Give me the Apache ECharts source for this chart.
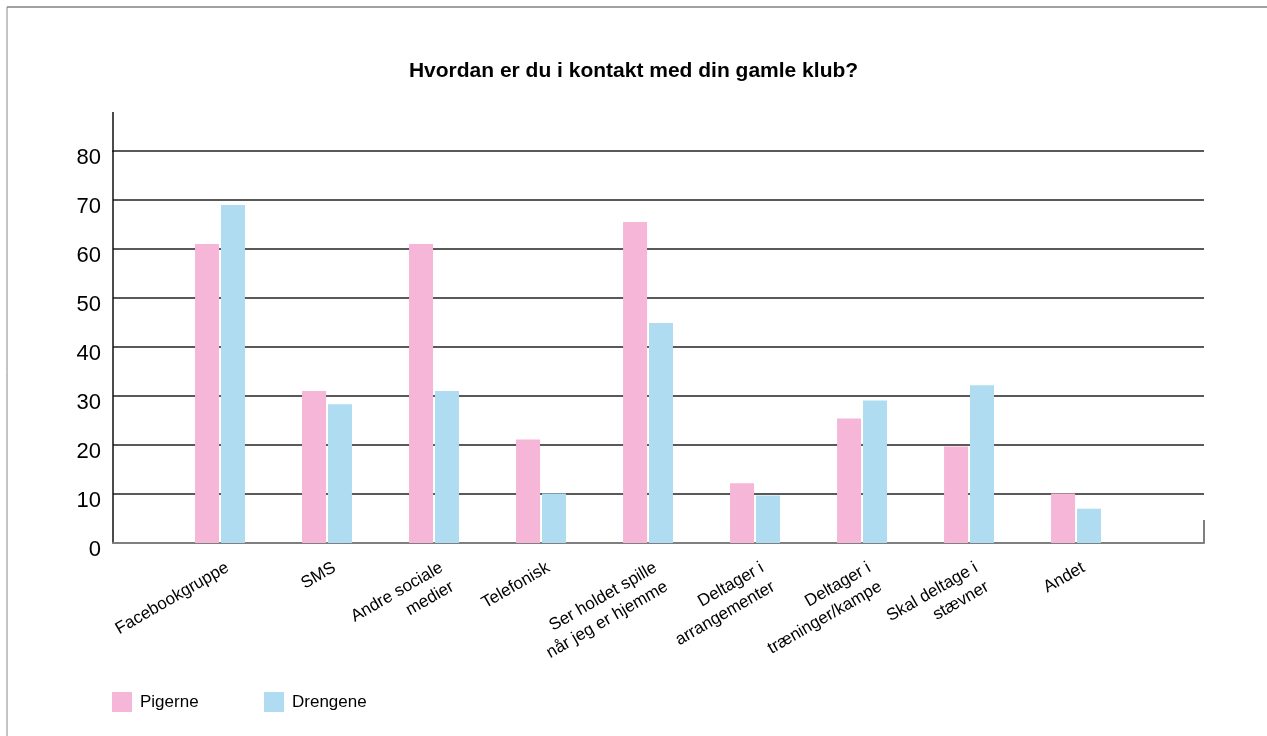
<!DOCTYPE html>
<html>
<head>
<meta charset="utf-8">
<script src="https://cdn.jsdelivr.net/npm/echarts@6/dist/echarts.min.js"></script>
<style>
  html, body { margin: 0; padding: 0; background: #fff; }
  #chart { width: 1267px; height: 736px; }
</style>
</head>
<body>
<div id="chart"></div>
<script>
// data
var categories = [
  "Facebookgruppe",
  "SMS",
  "Andre sociale\nmedier",
  "Telefonisk",
  "Ser holdet spille\nnår jeg er hjemme",
  "Deltager i\narrangementer",
  "Deltager i\ntræninger/kampe",
  "Skal deltage i\nstævner",
  "Andet"
];
var pigerne = [61, 31, 61, 21.1, 65.5, 12.2, 25.4, 19.7, 10.1];
var drengene = [69, 28.3, 31, 10.1, 44.9, 9.7, 29.1, 32.2, 7];
var yTicks = [0, 80, 10]; // min, max, step

var font = "'Liberation Sans Narrow', 'Arial Narrow', 'Liberation Sans', sans-serif";

// bars sit on a value axis so the categories keep the original spacing
function pairs(vals) {
  return vals.map(function (v, i) { return [i + 1, v]; });
}

var chart = echarts.init(document.getElementById("chart"));

chart.setOption({
  backgroundColor: "#fff",
  animation: false,
  textStyle: { fontFamily: font },
  title: {
    text: "Hvordan er du i kontakt med din gamle klub?",
    left: "center",
    top: 56,
    textStyle: { fontFamily: font, fontSize: 21, fontWeight: "bold", color: "#000" }
  },
  legend: [
    {
      data: ["Pigerne"], left: 112, top: 692, padding: 0, itemWidth: 20, itemHeight: 20, itemGap: 0,
      icon: "rect", textStyle: { fontFamily: font, fontSize: 17, color: "#000", padding: [0, 0, 0, 3] }
    },
    {
      data: ["Drengene"], left: 264, top: 692, padding: 0, itemWidth: 20, itemHeight: 20, itemGap: 0,
      icon: "rect", textStyle: { fontFamily: font, fontSize: 17, color: "#000", padding: [0, 0, 0, 3] }
    }
  ],
  grid: [
    { left: 113, right: 63, top: 151, bottom: 193, containLabel: false },
    // label strip, nudged a little right like the original
    { left: 168.5, right: 135.5, top: 151, bottom: 193, containLabel: false }
  ],
  xAxis: [
    {
      type: "value",
      gridIndex: 0,
      min: 0,
      max: 10.196,
      interval: 1,
      splitLine: { show: false },
      axisTick: { show: false },
      axisLabel: { show: false },
      axisLine: { show: true, onZero: false, lineStyle: { color: "#7f7f7f", width: 2 } }
    },
    {
      type: "category",
      gridIndex: 1,
      data: categories,
      axisLine: { show: false },
      axisTick: { show: false },
      axisLabel: {
        interval: 0,
        rotate: 30,
        margin: 14,
        align: "right",
        verticalAlign: "top",
        fontSize: 17,
        lineHeight: 22,
        color: "#000",
        fontFamily: font
      }
    }
  ],
  yAxis: [
    {
      type: "value",
      gridIndex: 0,
      min: yTicks[0],
      max: yTicks[1],
      interval: yTicks[2],
      axisLine: { show: true, lineStyle: { color: "#111", width: 1.5 } },
      axisTick: { show: false },
      axisLabel: {
        fontSize: 22, color: "#000", margin: 12, fontFamily: font,
        verticalAlign: "top", lineHeight: 14
      },
      splitLine: { lineStyle: { color: "#222", width: 1.5 } }
    },
    { type: "value", gridIndex: 1, min: yTicks[0], max: yTicks[1], show: false }
  ],
  series: [
    {
      name: "Pigerne",
      type: "bar",
      data: pairs(pigerne),
      barWidth: 24,
      barGap: "8%",
      itemStyle: { color: "#F5B6D7" }
    },
    {
      name: "Drengene",
      type: "bar",
      data: pairs(drengene),
      barWidth: 24,
      barGap: "8%",
      itemStyle: { color: "#AFDCF1" }
    }
  ],
  graphic: [
    // frame (top and left only)
    { type: "line", shape: { x1: 7, y1: 7, x2: 1267, y2: 7 }, style: { stroke: "#444", lineWidth: 1 } },
    { type: "line", shape: { x1: 7, y1: 7, x2: 7, y2: 736 }, style: { stroke: "#888", lineWidth: 1 } },
    // y axis continues above the top gridline
    { type: "line", shape: { x1: 113, y1: 112, x2: 113, y2: 152 }, style: { stroke: "#111", lineWidth: 1.5 } },
    // small closing tick at the right end
    { type: "line", shape: { x1: 1204, y1: 520, x2: 1204, y2: 543 }, style: { stroke: "#7f7f7f", lineWidth: 2 } }
  ]
});
</script>
</body>
</html>
